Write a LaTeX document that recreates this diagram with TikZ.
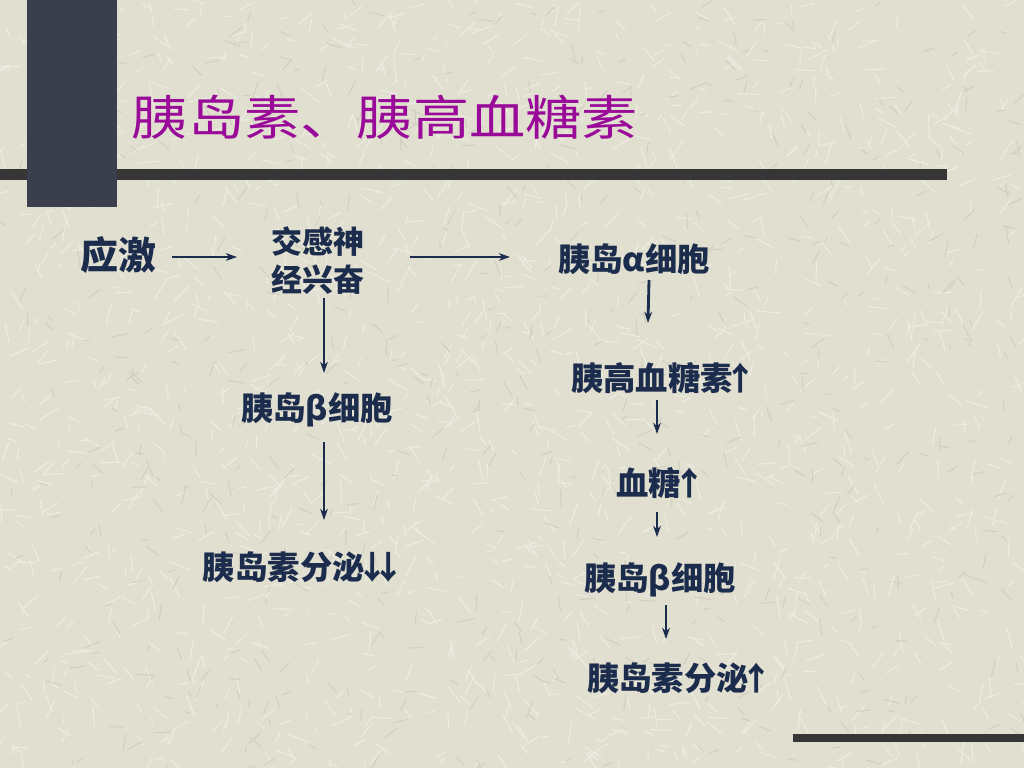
\documentclass[tikz,border=0pt]{standalone}
\usepackage{fontspec}
\usetikzlibrary{calc,arrows.meta}
\newfontfamily\cjk{Noto Sans CJK SC}
\newcommand{\myup}{\makebox[0.5em]{↑}}
\newcommand{\mydown}{\makebox[0.5em]{↓}}
\definecolor{bgc}{HTML}{E0DFD0}
\definecolor{texlight}{HTML}{EDECE2}
\definecolor{texdark}{HTML}{D2D1C1}
\definecolor{txt}{HTML}{1C2C4C}
\definecolor{ttl}{HTML}{990A99}
\definecolor{blockc}{HTML}{3A3E4D}
\definecolor{barc}{HTML}{363636}
\tikzset{
  lbl/.style={inner sep=0pt, text=txt, font=\cjk\bfseries\fontsize{23}{28}\selectfont},
  arr/.style={draw=txt, line width=2pt, -{Stealth[length=8pt,width=5.5pt]}},
  ttlstyle/.style={inner sep=0pt, text=ttl, font=\cjk\fontsize{40}{44}\selectfont}
}
\begin{document}
\begin{tikzpicture}[x=0.025cm,y=-0.025cm]
\fill[bgc] (0,0) rectangle (1024,768);
\useasboundingbox (0,0) rectangle (1024,768);
% background texture
\pgfmathsetseed{7}
\begin{scope}[line width=0.8pt, line cap=round]
\foreach \i in {1,...,1600}{
  \pgfmathsetmacro{\px}{rnd*1024}
  \pgfmathsetmacro{\py}{rnd*768}
  \pgfmathsetmacro{\ang}{rnd*360}
  \pgfmathsetmacro{\len}{6+rnd*16}
  \draw[texlight] (\px,\py) -- ++(\ang:\len);
}
\foreach \i in {1,...,600}{
  \pgfmathsetmacro{\px}{rnd*1024}
  \pgfmathsetmacro{\py}{rnd*768}
  \pgfmathsetmacro{\ang}{rnd*360}
  \pgfmathsetmacro{\len}{5+rnd*12}
  \draw[texdark] (\px,\py) -- ++(\ang:\len);
}
\end{scope}
% decorative bars
\fill[barc] (0,169) rectangle (947,180);
\fill[blockc] (27,0) rectangle (117,207);
\fill[barc] (793,734) rectangle (1024,742);
% title
\node[ttlstyle] (title) at (385,117) {\scalebox{1}[0.85]{胰岛素、胰高血糖素}};
% nodes
\node[lbl, font=\cjk\bfseries\fontsize{27}{30}\selectfont] (stress) at (118,255) {应激};
\node[lbl, align=center, font=\cjk\bfseries\fontsize{22}{27}\selectfont] (sym) at (318,261) {交感神\\经兴奋};
\node[lbl] (alpha) at (634,259) {胰岛α细胞};
\node[lbl] (glu) at (660,378) {胰高血糖素\myup};
\node[lbl] (bsug) at (657,483) {血糖\myup};
\node[lbl] (beta2) at (660,580) {胰岛β细胞};
\node[lbl] (ins2) at (676,678) {胰岛素分泌\myup};
\node[lbl] (beta1) at (317,410) {胰岛β细胞};
\node[lbl] (ins1) at (300,567) {胰岛素分泌\mydown\mydown};
% connectors
\draw[arr] ($(stress)+(54,2)$) -- ($(sym)+(-81,-4)$);
\draw[arr] ($(sym)+(92,-4)$) -- ($(alpha)+(-124,-2)$);
\draw[arr] ($(alpha)+(15,21)$) -- ($(glu)+(-12,-55)$);
\draw[arr] ($(glu)+(-3,22)$) -- ($(bsug)+(0,-49)$);
\draw[arr] ($(bsug)+(0,29)$) -- ($(beta2)+(-3,-43)$);
\draw[arr] ($(beta2)+(6,25)$) -- ($(ins2)+(-10,-39)$);
\draw[arr] ($(sym)+(6,37)$) -- ($(beta1)+(7,-37)$);
\draw[arr] ($(beta1)+(7,32)$) -- ($(ins1)+(24,-47)$);
\end{tikzpicture}
\end{document}
